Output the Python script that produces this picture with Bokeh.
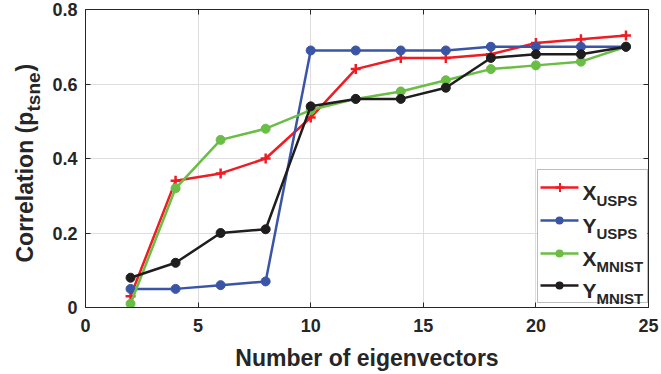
import math
from bokeh.plotting import figure
from bokeh.layouts import row
from bokeh.models import (Range1d, FixedTicker, LinearAxis, Label, BoxAnnotation,
                          CustomJSTickFormatter)
from bokeh.embed import file_html
from bokeh.resources import INLINE

# ---------------- data ----------------
n_eig = [2, 4, 6, 8, 10, 12, 14, 16, 18, 20, 22, 24]
x_usps = [0.03, 0.34, 0.36, 0.40, 0.51, 0.64, 0.67, 0.67, 0.68, 0.71, 0.72, 0.73]
y_usps = [0.05, 0.05, 0.06, 0.07, 0.69, 0.69, 0.69, 0.69, 0.70, 0.70, 0.70, 0.70]
x_mnist = [0.01, 0.32, 0.45, 0.48, 0.53, 0.56, 0.58, 0.61, 0.64, 0.65, 0.66, 0.70]
y_mnist = [0.08, 0.12, 0.20, 0.21, 0.54, 0.56, 0.56, 0.59, 0.67, 0.68, 0.68, 0.70]

series_main = ["X", "Y", "X", "Y"]
series_sub = ["USPS", "USPS", "MNIST", "MNIST"]
series_vals = [x_usps, y_usps, x_mnist, y_mnist]
series_colors = ["#ee1d24", "#3a55a6", "#6abd45", "#1f1d1e"]
series_markers = ["cross", "circle", "circle", "circle"]

x_ticks = [0, 5, 10, 15, 20, 25]
y_ticks = [0, 0.2, 0.4, 0.6, 0.8]
y_tick_labels = ["0", "0.2", "0.4", "0.6", "0.8"]

x_label = "Number of eigenvectors"
y_label_main = "Correlation (p"
y_label_sub = "tsne"
y_label_end = ")"

# ---------------- style ----------------
FONT = "Liberation Sans"
TXT = "#262626"
GRID = "#dedede"
W, H = 661, 374
LW = 45                          # width of the strip holding the y label
FL, FR, FT, FB = 85, 13, 9, 67   # frame borders in the whole picture

p = figure(width=W - LW, height=H, x_range=Range1d(0, 25), y_range=Range1d(0, 0.8),
           output_backend="svg", toolbar_location=None,
           min_border_left=FL - LW, min_border_right=FR, min_border_top=FT, min_border_bottom=FB)
p.title.visible = False
p.outline_line_color = None
p.background_fill_color = "white"
p.border_fill_color = "white"

for ax, ticks in ((p.xaxis[0], x_ticks), (p.yaxis[0], y_ticks)):
    ax.ticker = FixedTicker(ticks=ticks)
    ax.axis_line_color = TXT
    ax.axis_line_width = 1
    ax.major_tick_line_color = TXT
    ax.major_tick_in = 5
    ax.major_tick_out = 0
    ax.minor_tick_line_color = None
    ax.major_label_text_font = FONT
    ax.major_label_text_font_style = "bold"
    ax.major_label_text_font_size = "18px"
    ax.major_label_text_color = TXT

p.xaxis.major_label_standoff = 11
p.yaxis.major_label_standoff = 8
p.yaxis.major_label_overrides = {t: s for t, s in zip(y_ticks, y_tick_labels)}
p.xaxis.axis_label = x_label
p.xaxis.axis_label_text_font = FONT
p.xaxis.axis_label_text_font_style = "bold"
p.xaxis.axis_label_text_font_size = "23px"
p.xaxis.axis_label_text_color = TXT
p.xaxis.axis_label_standoff = 10

for loc, ticks in (("right", y_ticks), ("above", x_ticks)):
    ax = LinearAxis(ticker=FixedTicker(ticks=ticks),
                    formatter=CustomJSTickFormatter(code="return ''"),
                    major_label_text_font_size="0px", major_label_standoff=0,
                    major_tick_in=5, major_tick_out=0, minor_tick_line_color=None,
                    axis_line_color=TXT, major_tick_line_color=TXT)
    p.add_layout(ax, loc)

p.xgrid.ticker = FixedTicker(ticks=x_ticks)
p.ygrid.ticker = FixedTicker(ticks=y_ticks)
p.grid.grid_line_color = GRID
p.grid.grid_line_width = 1

for vals, col, mk in zip(series_vals, series_colors, series_markers):
    p.line(n_eig, vals, line_color=col, line_width=2.5)
    if mk == "cross":
        p.scatter(n_eig, vals, marker="cross", size=10, line_color=col, line_width=2.5)
    else:
        p.scatter(n_eig, vals, marker="circle", size=9, fill_color=col, line_color=col)

# screen units are frame-relative with y upward: convert from picture pixels
def sx(x):
    return x - FL

def sy(y):
    return (H - FB) - y

def lab(x, y, text, size, angle=0.0, fx=sx, fy=sy):
    return Label(x=fx(x), y=fy(y), x_units="screen", y_units="screen", text=text, angle=angle,
                 text_align="left", text_baseline="alphabetic", text_font=FONT,
                 text_font_style="bold", text_font_size=size, text_color=TXT)

# ---------------- legend (custom, with subscripts) ----------------
def sbox(l, r, t, b, col, radius=0, line=None):
    return BoxAnnotation(left=sx(l), right=sx(r), top=sy(t), bottom=sy(b),
                         left_units="screen", right_units="screen",
                         top_units="screen", bottom_units="screen",
                         fill_color=col, fill_alpha=1.0, line_color=line, line_width=1,
                         border_radius=radius)

p.add_layout(sbox(537, 647, 169, 302, "white", line=TXT))
row_y = [187, 220, 253, 285]

for yc, main, sub, col, mk in zip(row_y, series_main, series_sub, series_colors, series_markers):
    p.add_layout(sbox(540, 578, yc - 1.25, yc + 1.25, col))
    if mk == "cross":
        p.add_layout(sbox(555, 564, yc - 1.25, yc + 1.25, col))
        p.add_layout(sbox(558.5, 560.5, yc - 4.5, yc + 4.5, col))
    else:
        p.add_layout(sbox(555, 563, yc - 4, yc + 4, col, 4))
    p.add_layout(lab(582, yc + 5, main, "21px"))
    p.add_layout(lab(596, yc + 13, sub, "15px"))

# ---------------- y-axis label strip (with subscript) ----------------
# the row aligns this strip's frame with the main frame (top 9, bottom 307)
q = figure(width=LW, height=H, x_range=Range1d(0, 1), y_range=Range1d(0, 1),
           output_backend="svg", toolbar_location=None,
           x_axis_location=None, y_axis_location=None,
           min_border_left=0, min_border_right=0, min_border_top=FT, min_border_bottom=FB)
q.title.visible = False
q.outline_line_color = None
q.grid.visible = False
q.background_fill_color = "white"
q.border_fill_color = "white"

qx = lambda x: x - 8
qy = sy
y0 = 262
q.add_layout(lab(32, y0, y_label_main, "23px", math.pi / 2, qx, qy))
q.add_layout(lab(41, y0 - 151, y_label_sub, "19px", math.pi / 2, qx, qy))
q.add_layout(lab(32, y0 - 151 - 40, y_label_end, "23px", math.pi / 2, qx, qy))

layout = row(q, p, spacing=0)
open("out.html", "w").write(file_html(layout, INLINE))
